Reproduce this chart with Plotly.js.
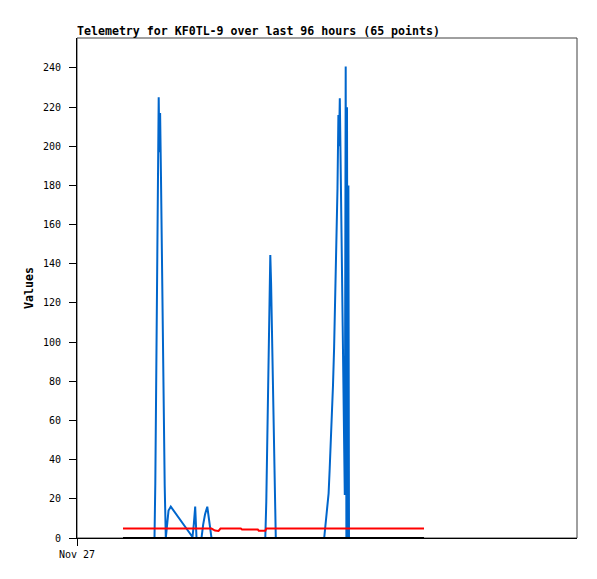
<!DOCTYPE html>
<html>
<head>
<meta charset="utf-8">
<script src="https://cdn.plot.ly/plotly-3.0.1.min.js"></script>
<style>html,body{margin:0;padding:0;background:#fff;}#chart{width:597px;height:579px;}</style>
</head>
<body>
<div id="chart"></div>
<script>
// Hours since Nov 27 00:00 for each telemetry sample
var hoursSinceStart = [
  14.67, 24.72, 24.98, 25.23, 25.52, 25.81, 26.06, 26.28, 26.51, 26.79,
  27.11, 27.53, 27.97, 28.33, 28.71, 29.19, 29.92, 36.84, 37.26, 37.70,
  38.12, 39.71, 40.26, 40.83, 41.56, 42.90, 44.02, 45.14, 45.77, 52.25,
  52.63, 57.67, 57.99, 60.06, 60.38, 60.70, 61.02, 61.34, 61.66, 61.91,
  62.20, 62.52, 62.84, 63.16, 63.41, 78.85, 79.20, 79.55, 79.90, 80.26,
  80.61, 80.96, 81.31, 81.66, 82.01, 82.39, 82.81, 83.09, 83.38, 83.57,
  83.83, 84.08, 84.37, 84.75, 85.10, 85.42, 85.71, 85.93, 86.12, 86.35,
  86.57, 86.76, 110.69
];
var blueValues = [
  0, 0, 28, 84, 140, 197, 225, 197, 217, 184,
  133, 80, 27, 0, 8, 14, 16, 0.5, 7, 16,
  0, 0, 7, 12, 16, 0, 0, 0, 0, 0,
  0, 0, 0, 0, 18.5, 54, 90, 126.6, 144.5, 130,
  101, 72, 43, 15, 0, 0, 5.8, 10, 14.3, 22.8,
  35.6, 48.3, 61, 78, 97, 122, 150.5, 178.6, 216, 200,
  224.5, 200, 156, 108, 67, 22, 240.8, 0, 220, 0,
  180, 0, 0
];
var redValues = [
  4.8, 4.8, 4.8, 4.8, 4.8, 4.8, 4.8, 4.8, 4.8, 4.8,
  4.8, 4.8, 4.8, 4.8, 4.8, 4.8, 4.8, 4.8, 4.8, 4.8,
  4.8, 4.8, 4.8, 4.8, 4.8, 4.8, 3.8, 3.6, 4.8, 4.8,
  4.3, 4.3, 3.7, 3.7, 4.8, 4.8, 4.8, 4.8, 4.8, 4.8,
  4.8, 4.8, 4.8, 4.8, 4.8, 4.8, 4.8, 4.8, 4.8, 4.8,
  4.8, 4.8, 4.8, 4.8, 4.8, 4.8, 4.8, 4.8, 4.8, 4.8,
  4.8, 4.8, 4.8, 4.8, 4.8, 4.8, 4.8, 4.8, 4.8, 4.8,
  4.8, 4.8, 4.8
];
var blackValues = hoursSinceStart.map(function(){ return 0; });
var yTickValues = [0, 20, 40, 60, 80, 100, 120, 140, 160, 180, 200, 220, 240];
var xTickLabels = ['Nov 27'];
var axisStartHour = 0;
var axisEndHour = 159.49;

var t0 = Date.UTC(2024, 10, 27, 0, 0, 0);
function hourToDate(h) {
  return new Date(t0 + h * 3600000).toISOString().slice(0, 23).replace('T', ' ');
}
var times = hoursSinceStart.map(hourToDate);

var mono = 'DejaVu Sans Mono, monospace';
var traces = [
  {x: times, y: blueValues, type: 'scatter', mode: 'lines', line: {color: '#0066cc', width: 2}, hoverinfo: 'none'},
  {x: times, y: redValues, type: 'scatter', mode: 'lines', line: {color: '#ff0000', width: 2}, hoverinfo: 'none'},
  {x: times, y: blackValues, type: 'scatter', mode: 'lines', line: {color: '#000000', width: 2}, hoverinfo: 'none'}
];
var layout = {
  width: 597, height: 579,
  margin: {l: 77, r: 20, t: 38, b: 41, pad: 0},
  paper_bgcolor: '#ffffff', plot_bgcolor: '#ffffff',
  showlegend: false,
  title: {
    text: '<b>Telemetry for KF0TL-9 over last 96 hours (65 points)</b>',
    font: {family: mono, size: 11.6, color: '#000'},
    x: 0, xref: 'paper', xanchor: 'left',
    y: 1 - 31 / 579, yref: 'container', yanchor: 'middle'
  },
  xaxis: {
    type: 'date',
    range: [hourToDate(axisStartHour), hourToDate(axisEndHour)],
    tickmode: 'array',
    tickvals: [hourToDate(axisStartHour)],
    ticktext: xTickLabels,
    ticks: 'outside', ticklen: 7, tickwidth: 1, tickcolor: '#000',
    showline: true, linecolor: '#000', linewidth: 1,
    showgrid: false, zeroline: false,
    tickfont: {family: mono, size: 10, color: '#000'}
  },
  yaxis: {
    range: [0, 255.3],
    tickmode: 'array', tickvals: yTickValues,
    ticktext: yTickValues.map(String),
    ticks: 'outside', ticklen: 7, tickwidth: 1, tickcolor: '#000',
    ticklabelstandoff: 6,
    showline: true, linecolor: '#000', linewidth: 1,
    showgrid: false, zeroline: false,
    tickfont: {family: mono, size: 10, color: '#000'},
    title: {text: '<b>Values</b>', font: {family: mono, size: 11.6, color: '#000'}, standoff: 6}
  },
  shapes: [
    {type: 'rect', xref: 'paper', yref: 'paper', x0: 0, x1: 1, y0: 0, y1: 1,
     line: {color: '#404040', width: 1}, layer: 'below'}
  ]
};
Plotly.newPlot('chart', traces, layout, {staticPlot: true, displayModeBar: false});
</script>
</body>
</html>
